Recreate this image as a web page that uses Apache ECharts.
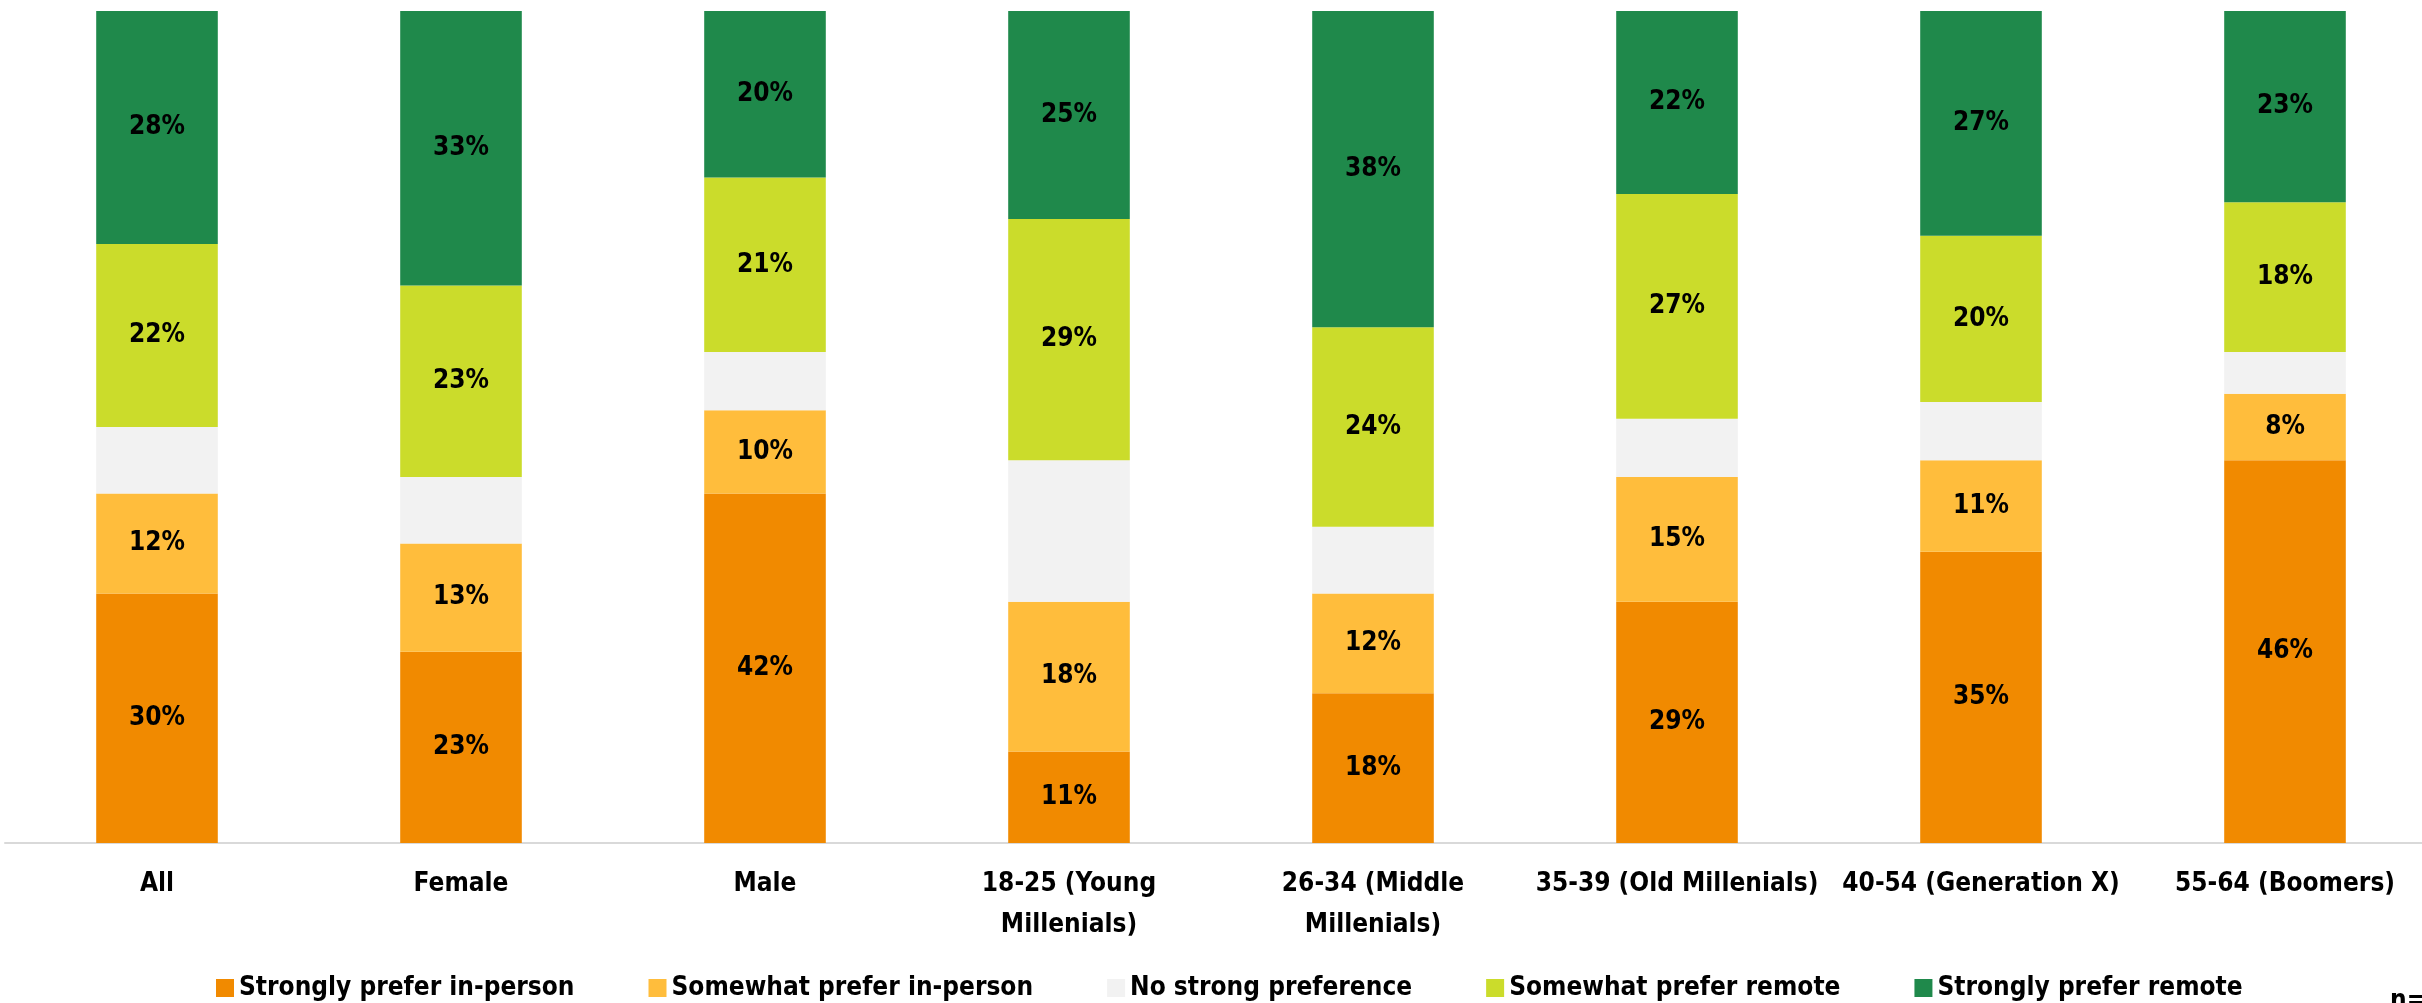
<!DOCTYPE html>
<html>
<head>
<meta charset="utf-8">
<script src="https://cdn.jsdelivr.net/npm/echarts@6/dist/echarts.min.js"></script>
<style>
  html, body { margin: 0; padding: 0; background: #fff; overflow: hidden; }
  /* 图表比窗口略宽，最右侧被裁掉，与原图一致 */
  #chart { width: 2437px; height: 1003px; }
</style>
</head>
<body>
<div id="chart"></div>
<script>
// categories (x axis)
var categories = [
  'All',
  'Female',
  'Male',
  '18-25 (Young\nMillenials)',
  '26-34 (Middle\nMillenials)',
  '35-39 (Old Millenials)',
  '40-54 (Generation X)',
  '55-64 (Boomers)'
];

// series values, in %
var stronglyInPerson = [30, 23, 42, 11, 18, 29, 35, 46];
var somewhatInPerson = [12, 13, 10, 18, 12, 15, 11, 8];
var noPreference = [8, 8, 7, 17, 8, 7, 7, 5];
var somewhatRemote = [22, 23, 21, 29, 24, 27, 20, 18];
var stronglyRemote = [28, 33, 20, 25, 38, 22, 27, 23];

var seriesNames = [
  'Strongly prefer in-person',
  'Somewhat prefer in-person',
  'No strong preference',
  'Somewhat prefer remote',
  'Strongly prefer remote'
];

var fontFamily = "'DejaVu Sans Condensed', 'Liberation Sans', sans-serif";

// 一个堆叠柱子系列
function makeSeries(name, data, color, showLabel) {
  return {
    name: name,
    type: 'bar',
    stack: 'total',
    barWidth: '40%',
    data: data,
    itemStyle: { color: color },
    label: {
      show: showLabel,
      position: 'inside',
      formatter: '{c}%',
      color: '#000',
      fontWeight: 'bold',
      fontSize: 26,
      fontFamily: fontFamily
    }
  };
}

var chart = echarts.init(document.getElementById('chart'), null, { renderer: 'canvas' });

chart.setOption({
  backgroundColor: '#fff',
  animation: false,
  grid: { left: 5, right: 0, top: 11, bottom: 160, containLabel: false },
  legend: {
    left: 211,
    top: 970,
    icon: 'rect',
    itemWidth: 18,
    itemHeight: 18,
    itemGap: 74,
    textStyle: { color: '#000', fontWeight: 'bold', fontSize: 26, fontFamily: fontFamily },
    data: seriesNames
  },
  xAxis: {
    type: 'category',
    data: categories,
    axisLine: { show: true, lineStyle: { color: '#D9D9D9', width: 2 } },
    axisTick: { show: false },
    axisLabel: {
      interval: 0,
      margin: 21,
      color: '#000',
      fontWeight: 'bold',
      fontSize: 26,
      lineHeight: 41,
      fontFamily: fontFamily
    }
  },
  yAxis: {
    type: 'value',
    min: 0,
    max: 100,
    show: false,
    splitLine: { show: false }
  },
  graphic: [
    {
      type: 'text',
      left: 2390,
      top: 988,
      style: { text: 'n=', fill: '#000', font: 'bold 26px ' + fontFamily }
    }
  ],
  series: [
    makeSeries(seriesNames[0], stronglyInPerson, '#F18A00', true),
    makeSeries(seriesNames[1], somewhatInPerson, '#FFBD3C', true),
    makeSeries(seriesNames[2], noPreference, '#F2F2F2', false),
    makeSeries(seriesNames[3], somewhatRemote, '#CBDC2B', true),
    makeSeries(seriesNames[4], stronglyRemote, '#1F894B', true)
  ]
});
</script>
</body>
</html>
